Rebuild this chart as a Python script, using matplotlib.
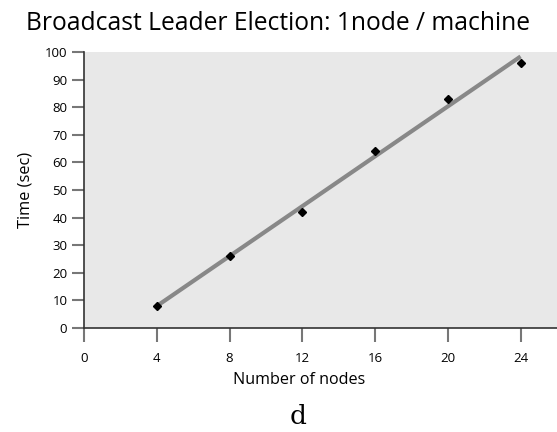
import numpy as np
import matplotlib
matplotlib.use("Agg")
import matplotlib.pyplot as plt

# Data
nodes = [4, 8, 12, 16, 20, 24]
times = [8, 26, 42, 64, 83, 96]
x_ticks = [0, 4, 8, 12, 16, 20, 24]
y_ticks = [0, 10, 20, 30, 40, 50, 60, 70, 80, 90, 100]

plt.rcParams["font.family"] = ["Open Sans", "DejaVu Sans"]

fig = plt.figure(figsize=(5.57, 4.32), dpi=100)
ax = fig.add_axes([84 / 557, 1 - 328 / 432, 473 / 557, 276 / 432])
ax.set_facecolor("#e8e8e8")

# linear fit through the points
slope, intercept = np.polyfit(nodes, times, 1)
fit_x = np.array([nodes[0], nodes[-1]])
ax.plot(fit_x, slope * fit_x + intercept, color="#888888", linewidth=3,
        solid_capstyle="butt", zorder=2)
ax.plot(nodes, times, linestyle="none", marker="D", markersize=4.5,
        color="black", zorder=3)

ax.set_xlim(0, 26)
ax.set_ylim(0, 100)
ax.set_xticks(x_ticks)
ax.set_yticks(y_ticks)

for side in ["top", "right"]:
    ax.spines[side].set_visible(False)
for side in ["left", "bottom"]:
    ax.spines[side].set_color("#333333")
    ax.spines[side].set_linewidth(1.2)

ax.tick_params(axis="both", direction="out", color="#777777", width=1.5,
               labelsize=9.5)
ax.tick_params(axis="x", length=10, pad=7)
ax.tick_params(axis="y", length=9, pad=3)

ax.set_xlabel("Number of nodes", fontsize=11.6)
ax.set_ylabel("Time (sec)", fontsize=11.8)
ax.xaxis.set_label_coords(0.455, -0.158)
ax.yaxis.set_label_coords(-0.106, 0.5)

fig.text(0.5, 1 - 23 / 432, "Broadcast Leader Election: 1node / machine",
         ha="center", va="center", fontsize=17.7)
fig.text(298 / 557, 1 - 417 / 432, "d", ha="center", va="center",
         fontsize=19, family="DejaVu Serif")

fig.savefig("out.png", dpi=100)
